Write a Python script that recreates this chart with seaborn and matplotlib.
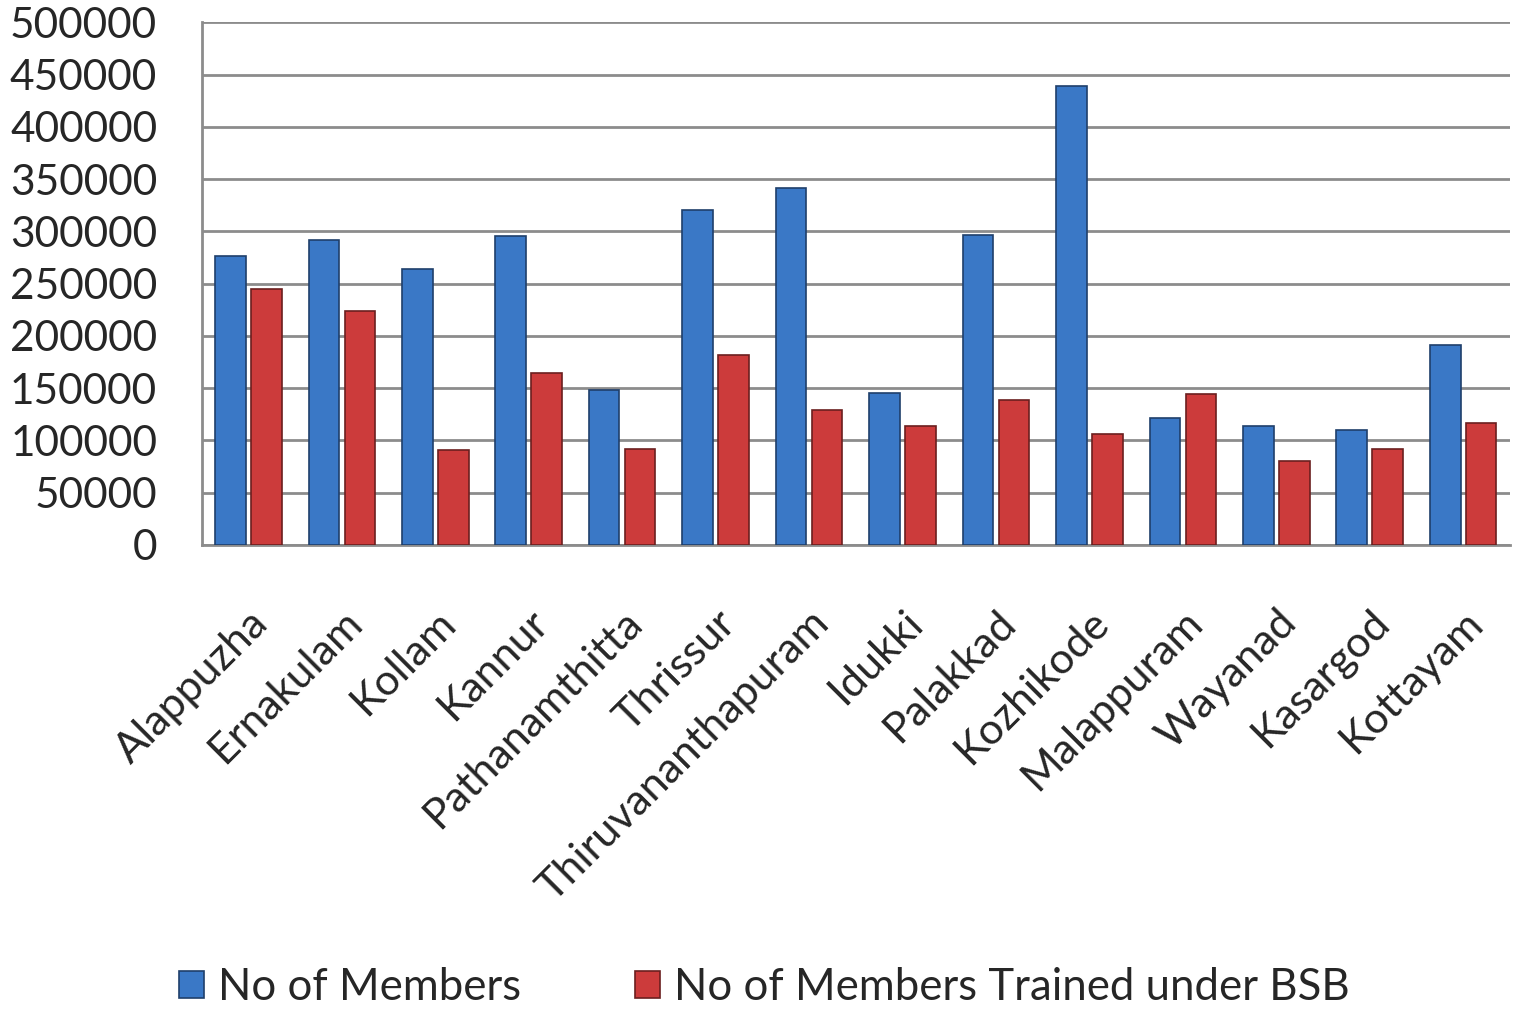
import matplotlib
matplotlib.use("Agg")
import matplotlib.pyplot as plt
from matplotlib.patches import Patch
import seaborn as sns
import pandas as pd

districts = ["Alappuzha", "Ernakulam", "Kollam", "Kannur", "Pathanamthitta", "Thrissur",
             "Thiruvananthapuram", "Idukki", "Palakkad", "Kozhikode", "Malappuram",
             "Wayanad", "Kasargod", "Kottayam"]
members = [276000, 291500, 263500, 295500, 148000, 320000, 341000, 145000, 296000,
           439000, 121000, 113500, 110000, 191000]
trained = [244500, 223500, 91000, 164000, 91500, 181500, 129000, 114000, 138500,
           106000, 144500, 80500, 92000, 116500]
series_names = ["No of Members", "No of Members Trained under BSB"]
yticks = [0, 50000, 100000, 150000, 200000, 250000, 300000, 350000, 400000, 450000, 500000]

df = pd.DataFrame({
    "District": districts * 2,
    "Value": members + trained,
    "Series": [series_names[0]] * len(districts) + [series_names[1]] * len(districts),
})

sns.set_style("white")
plt.rcParams["font.family"] = ["Lato", "DejaVu Sans"]

fig = plt.figure(figsize=(15.16, 10.11), dpi=100)
ax = fig.add_axes([0.133, 0.461, 0.863, 0.517])

colors = ["#3a78c6", "#cc3b3b"]
edges = ["#1f3f6b", "#6b1f1f"]
sns.barplot(data=df, x="District", y="Value", hue="Series", palette=colors,
            width=0.77, gap=0.15, ax=ax, legend=False, saturation=1)

for bars, ec in zip(ax.containers, edges):
    for b in bars:
        b.set_edgecolor(ec)
        b.set_linewidth(1.2)
        b.set_zorder(3)

ax.set_ylim(0, 500000)
ax.set_xlim(-0.5, len(districts) - 0.5)
ax.set_yticks(yticks)
ax.set_yticklabels([str(t) for t in yticks], fontsize=30.5)
ax.yaxis.grid(True, color="#8c8c8c", linewidth=2, zorder=0)
ax.set_axisbelow(True)
ax.tick_params(axis="y", length=0, pad=32)
ax.tick_params(axis="x", length=0, pad=42)
ax.set_xticks(range(len(districts)))
ax.set_xticklabels(districts, rotation=45, ha="right", rotation_mode="anchor", fontsize=31)
ax.set_xlabel("")
ax.set_ylabel("")

for side in ["top", "right"]:
    ax.spines[side].set_visible(False)
for side in ["left", "bottom"]:
    ax.spines[side].set_color("#8c8c8c")
    ax.spines[side].set_linewidth(2)

handles = [Patch(facecolor=c, edgecolor=e, linewidth=1.2) for c, e in zip(colors, edges)]
fig.legend(handles, series_names, loc="center", bbox_to_anchor=(0.504, 0.023), ncol=2,
           frameon=False, fontsize=31.5, handlelength=0.57, handleheight=0.57,
           handletextpad=0.32, columnspacing=2.6)

fig.savefig("out.png", dpi=100)
